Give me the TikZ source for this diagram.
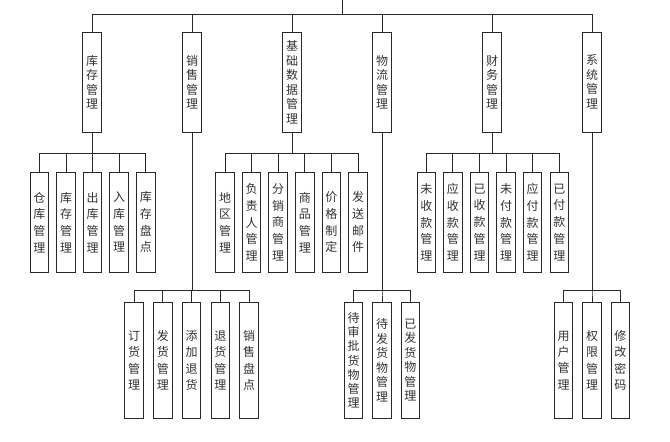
\documentclass[tikz,border=0pt]{standalone}
\usepackage{fontspec}
\setmainfont{Noto Sans CJK SC}
\usepackage{tikz}
\usetikzlibrary{positioning}
\definecolor{boxline}{RGB}{40,40,40}
\definecolor{textgray}{RGB}{50,50,50}

\tikzset{
  modbox/.style={draw=boxline, line width=1pt, minimum width=18.5pt, inner sep=0pt, align=center, text=textgray},
  topbox/.style={modbox, minimum height=100pt, font=\fontsize{12}{14.5}\selectfont},
  midbox/.style={modbox, minimum height=100pt, font=\fontsize{12}{16.7}\selectfont},
  lowbox/.style={modbox, minimum height=116pt, font=\fontsize{12}{16.4}\selectfont},
  link/.style={draw=boxline, line width=1pt}
}

\begin{document}
\begin{tikzpicture}[x=1pt, y=-1pt]
\useasboundingbox (0,0) rectangle (670,442);
\coordinate (root) at (342,0);

% first level
\node[topbox] (kc) at (92,82) {库\\存\\管\\理};
\node[topbox] (xs) at (192,82) {销\\售\\管\\理};
\node[topbox] (jc) at (292,82) {基\\础\\数\\据\\管\\理};
\node[topbox] (wl) at (382,82) {物\\流\\管\\理};
\node[topbox] (cw) at (492,82) {财\\务\\管\\理};
\node[topbox] (xt) at (592,82) {系\\统\\管\\理};
\foreach \n in {kc,xs,jc,wl,cw,xt}
  \draw[link] (root) -- ++(0,14) -| (\n.north);

% upper row
\foreach \t [count=\i] in {{仓\\库\\管\\理},{库\\存\\管\\理},{出\\库\\管\\理},{入\\库\\管\\理},{库\\存\\盘\\点}} {
  \node[midbox] (kc\i) at ({39.4+26.6*(\i-1)},222.3) {\t};
  \draw[link] (kc.south) -- ++(0,20.7) -| (kc\i.north);
}
\foreach \t [count=\i] in {{地\\区\\管\\理},{负\\责\\人\\管\\理},{分\\销\\商\\管\\理},{商\\品\\管\\理},{价\\格\\制\\定},{发\\送\\邮\\件}} {
  \node[midbox] (jc\i) at ({225+26.6*(\i-1)},222.3) {\t};
  \draw[link] (jc.south) -- ++(0,20.7) -| (jc\i.north);
}
\foreach \t [count=\i] in {{未\\收\\款\\管\\理},{应\\收\\款\\管\\理},{已\\收\\款\\管\\理},{未\\付\\款\\管\\理},{应\\付\\款\\管\\理},{已\\付\\款\\管\\理}} {
  \node[midbox] (cw\i) at ({426.3+26.6*(\i-1)},222.3) {\t};
  \draw[link] (cw.south) -- ++(0,20.7) -| (cw\i.north);
}

% lower row
\foreach \t [count=\i] in {{订\\货\\管\\理},{发\\货\\管\\理},{添\\加\\退\\货},{退\\货\\管\\理},{销\\售\\盘\\点}} {
  \node[lowbox] (xs\i) at ({134+28.8*(\i-1)},360.3) {\t};
  \draw[link] (xs.south) -- ++(0,158) -| (xs\i.north);
}
\node[lowbox, font=\fontsize{12}{14.1}\selectfont] (wl1) at (353.7,360.3) {待\\审\\批\\货\\物\\管\\理};
\node[lowbox, font=\fontsize{12}{14.5}\selectfont] (wl2) at (382,360.3) {待\\发\\货\\物\\管\\理};
\node[lowbox, font=\fontsize{12}{14.5}\selectfont] (wl3) at (410.3,360.3) {已\\发\\货\\物\\管\\理};
\foreach \i in {1,2,3}
  \draw[link] (wl.south) -- ++(0,158) -| (wl\i.north);
\foreach \t [count=\i] in {{用\\户\\管\\理},{权\\限\\管\\理},{修\\改\\密\\码}} {
  \node[lowbox] (xt\i) at ({563.7+28.3*(\i-1)},360.3) {\t};
  \draw[link] (xt.south) -- ++(0,158) -| (xt\i.north);
}
\end{tikzpicture}
\end{document}
